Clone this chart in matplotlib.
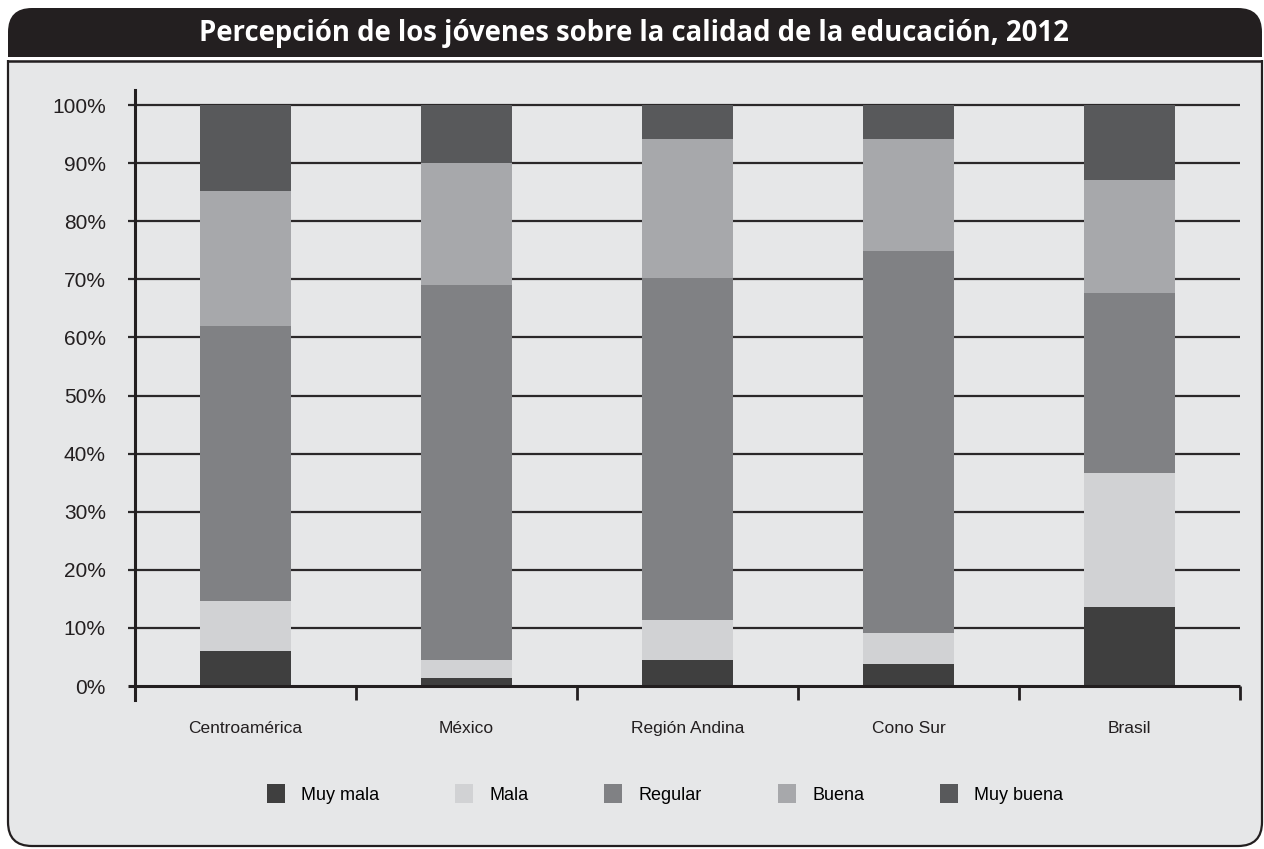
import matplotlib.pyplot as plt
import matplotlib.patches as patches
import numpy as np

# Youth perception of education quality by region, 2012 (percent of respondents)
categories = ['Centroamérica', 'México', 'Región Andina', 'Cono Sur', 'Brasil']
muy_mala = [6.1, 1.4, 4.5, 3.8, 13.6]
mala = [8.5, 3.1, 6.9, 5.3, 23.1]
regular = [47.4, 64.5, 58.9, 65.8, 30.9]
buena = [23.2, 21.1, 23.8, 19.2, 19.5]
muy_buena = [14.8, 9.9, 5.9, 5.9, 12.9]
series_names = ['Muy mala', 'Mala', 'Regular', 'Buena', 'Muy buena']
yticks = list(range(0, 101, 10))

colors = ['#3f3f3f', '#d1d2d4', '#808184', '#a7a8ab', '#58595b']
dark = '#231f20'
panel_bg = '#e6e7e8'
body_font = 'Liberation Sans'

W, H = 1264, 849
fig = plt.figure(figsize=(W / 100, H / 100), dpi=100, facecolor='white')

# Frame: pixel-coordinate background axes
bg = fig.add_axes([0, 0, 1, 1], zorder=-1)
bg.set_xlim(0, W)
bg.set_ylim(H, 0)
bg.axis('off')

panel = patches.FancyBboxPatch((8 + 24, 30 + 24), 1254 - 48, 816 - 48,
                               boxstyle="round,pad=24", linewidth=1.6,
                               edgecolor=dark, facecolor=panel_bg)
bg.add_patch(panel)
bg.add_patch(patches.Rectangle((0, 0), W, 59.5, facecolor='white', edgecolor='none'))
bg.plot([8, 1262], [60.5, 60.5], color=dark, lw=1.8, solid_capstyle='butt')

title_bar = patches.FancyBboxPatch((8 + 24, 8 + 24), 1254 - 48, 49 - 48,
                                   boxstyle="round,pad=24", linewidth=0,
                                   facecolor=dark)
bg.add_patch(title_bar)
bg.add_patch(patches.Rectangle((8, 34), 1254, 23, facecolor=dark, edgecolor='none'))
bg.text(634, 33, 'Percepción de los jóvenes sobre la calidad de la educación, 2012',
        ha='center', va='center', color='white', fontsize=19.8, fontweight='bold',
        family='Open Sans')

# Chart axes
ax = fig.add_axes([135 / W, (H - 700) / H, (1240 - 135) / W, 610 / H])
ax.set_facecolor('none')
ax.set_xlim(-0.5, 4.5)
ax.set_ylim(-2.4, 102.6)

x = np.arange(len(categories))
bottom = np.zeros(len(categories))
for vals, name, c in zip([muy_mala, mala, regular, buena, muy_buena], series_names, colors):
    ax.bar(x, vals, width=0.41, bottom=bottom, color=c, label=name, zorder=3, linewidth=0)
    bottom += np.array(vals)

# Gridlines extending slightly left of the y-axis
left_ext = -0.5 - 7 / 221
ax.hlines(yticks[1:], left_ext, 4.5, color='#2b2829', lw=1.6, zorder=1, clip_on=False)
ax.hlines(0, left_ext, 4.5, color=dark, lw=2.2, zorder=4, clip_on=False)
ax.vlines(np.arange(-0.5, 5, 1), -2.4, 0, color=dark, lw=2.0, zorder=4, clip_on=False)

for side in ['top', 'right', 'bottom']:
    ax.spines[side].set_visible(False)
ax.spines['left'].set_color(dark)
ax.spines['left'].set_linewidth(2.2)
ax.spines['left'].set_zorder(5)

ax.set_yticks(yticks)
ax.set_yticklabels([f'{v}%' for v in yticks], family=body_font, fontsize=15, color=dark)
ax.tick_params(axis='y', length=0, pad=21)
ax.set_xticks(x)
ax.set_xticklabels(categories, family=body_font, fontsize=12.5, color=dark)
ax.tick_params(axis='x', length=0, pad=15)

fig.legend(loc='center', bbox_to_anchor=(665 / W, (H - 794) / H), ncol=5, frameon=False,
           prop={'family': body_font, 'size': 13}, handlelength=1.0, handleheight=1.2,
           handletextpad=0.9, columnspacing=4.2)

plt.savefig('out.png', dpi=100, facecolor='white')
